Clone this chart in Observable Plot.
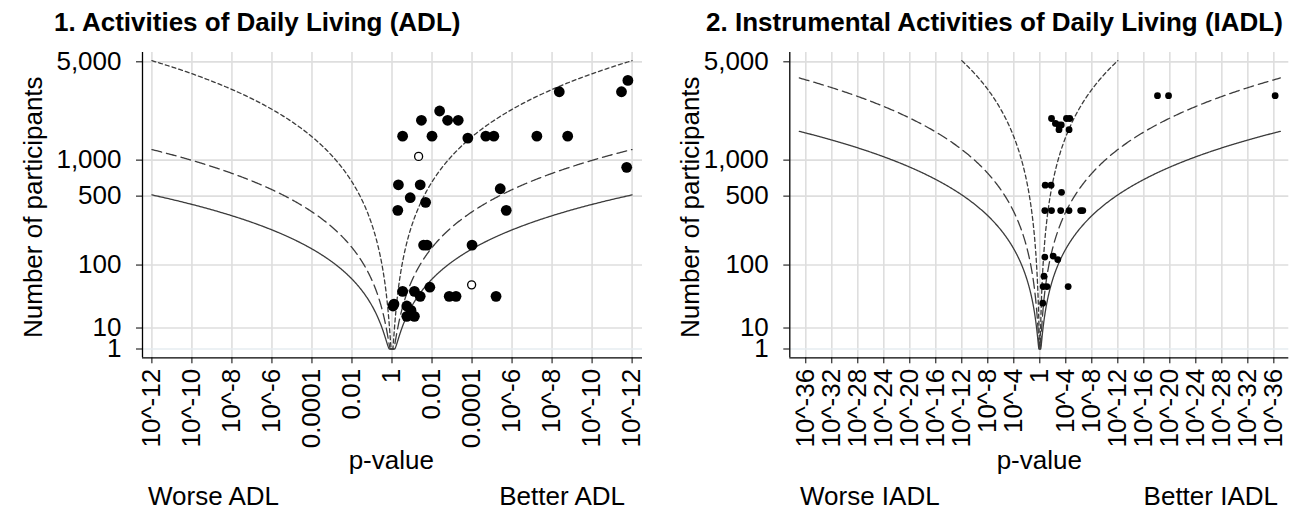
<!DOCTYPE html>
<html>
<head>
<meta charset="utf-8">
<script src="https://cdn.jsdelivr.net/npm/d3@7"></script>
<script src="https://cdn.jsdelivr.net/npm/@observablehq/plot@0.6"></script>
<style>
  html, body { margin: 0; padding: 0; background: #fff; }
  #wrap { position: relative; width: 1309px; height: 511px; overflow: hidden; font-family: "Liberation Sans", Arial, sans-serif; }
  .panel { position: absolute; top: 0; }
  .lbl { position: absolute; white-space: nowrap; color: #000; line-height: 1; font-size: 26px; }
  .title { font-weight: bold; font-size: 26px; }
  .center { transform: translateX(-50%); }
  .right { transform: translateX(-100%); }
  .ylab { transform-origin: 0 0; transform: rotate(-90deg); }
</style>
</head>
<body>
<div id="wrap"></div>
<script>
// ---------- data ----------
// x = signed -log10(p): negative = worse, positive = better
const adlX      = [1.47, 2.38, 2.78, 3.31, 8.36, 11.47, 11.79, 0.53, 2.0, 3.79, 4.69, 5.09, 7.24, 8.78, 11.73, 0.32, 1.41, 5.41, 0.91, 1.68, 0.29, 5.71, 1.58, 1.75, 4.0, 1.89, 0.53, 1.12, 1.41, 2.86, 3.2, 5.2, 0.1, 0.05, 0.74, 0.95, 0.74, 1.12];
const adlN      = [2000, 2330, 2000, 2000, 3170, 3170, 3780, 1530, 1530, 1480, 1530, 1530, 1530, 1530, 875, 627, 627, 580, 484, 440, 372, 372, 168, 168, 168, 52, 45.5, 45.5, 38.4, 38.4, 38.4, 38.4, 29, 27, 27, 22.7, 17.7, 17.7];
const adlHollowX = [1.33, 3.98];
const adlHollowN = [1070, 56];

const iadlX = [1.8, 4.1, 4.6, 2.4, 2.9, 3.3, 2.95, 4.5, 18.1, 19.8, 36.2, 0.83, 1.73, 3.34, 0.77, 1.80, 3.21, 4.49, 6.29, 6.61, 0.77, 2.05, 2.76, 0.64, 0.51, 1.09, 4.36, 0.45];
const iadlN = [2060, 2060, 2060, 1900, 1850, 1850, 1710, 1710, 2980, 2980, 2980, 622, 622, 540, 370, 370, 370, 370, 370, 370, 124, 127, 116, 73, 53, 53, 53, 30];

// contour effect sizes (standardised mean difference), n = 4 z^2 / d^2
const contourD    = [0.63, 0.41, 0.2];
const contourDash = [null, "10,5", "4,3"];

const yTickValues = [1, 10, 100, 500, 1000, 5000];
const yTickLabels = ["1", "10", "100", "500", "1,000", "5,000"];
const adlTickValues  = [-12, -10, -8, -6, -4, -2, 0, 2, 4, 6, 8, 10, 12];
const adlTickLabels  = ["10^-12", "10^-10", "10^-8", "10^-6", "0.0001", "0.01", "1", "0.01", "0.0001", "10^-6", "10^-8", "10^-10", "10^-12"];
const iadlTickValues = [-36, -32, -28, -24, -20, -16, -12, -8, -4, 0, 4, 8, 12, 16, 20, 24, 28, 32, 36];
const iadlTickLabels = ["10^-36", "10^-32", "10^-28", "10^-24", "10^-20", "10^-16", "10^-12", "10^-8", "10^-4", "1", "10^-4", "10^-8", "10^-12", "10^-16", "10^-20", "10^-24", "10^-28", "10^-32", "10^-36"];

// ---------- helpers ----------
function norminv(p) {
  const a = [-3.969683028665376e+01, 2.209460984245205e+02, -2.759285104469687e+02, 1.383577518672690e+02, -3.066479806614716e+01, 2.506628277459239e+00];
  const b = [-5.447609879822406e+01, 1.615858368580409e+02, -1.556989798598866e+02, 6.680131188771972e+01, -1.328068155288572e+01];
  const c = [-7.784894002430293e-03, -3.223964580411365e-01, -2.400758277161838e+00, -2.549732539343734e+00, 4.374664141464968e+00, 2.938163982698783e+00];
  const d = [7.784695709041462e-03, 3.224671290700398e-01, 2.445134137142996e+00, 3.754408661907416e+00];
  const plow = 0.02425, phigh = 1 - plow;
  if (p < plow) { const q = Math.sqrt(-2 * Math.log(p)); return (((((c[0]*q+c[1])*q+c[2])*q+c[3])*q+c[4])*q+c[5]) / ((((d[0]*q+d[1])*q+d[2])*q+d[3])*q+1); }
  if (p <= phigh) { const q = p - 0.5, r = q*q; return (((((a[0]*r+a[1])*r+a[2])*r+a[3])*r+a[4])*r+a[5])*q / (((((b[0]*r+b[1])*r+b[2])*r+b[3])*r+b[4])*r+1); }
  const q = Math.sqrt(-2 * Math.log(1 - p)); return -(((((c[0]*q+c[1])*q+c[2])*q+c[3])*q+c[4])*q+c[5]) / ((((d[0]*q+d[1])*q+d[2])*q+d[3])*q+1);
}
const zOf = x => -norminv(Math.pow(10, -Math.abs(x)) / 2);
const ty = n => Math.pow(Math.log(n), 2);   // axis transform of participant counts
const yLabelMap = new Map(yTickValues.map((v, i) => [ty(v), yTickLabels[i]]));

function contour(d, xmax) {
  const pts = [];
  const N = 500;
  for (let i = -N; i <= N; i++) {
    const u = i / N;
    const x = xmax * Math.sign(u) * Math.pow(Math.abs(u), 3);
    const n = Math.max(1, 4 * zOf(x) ** 2 / (d * d));
    pts.push({x, t: ty(n)});
  }
  return pts;
}

function panel({xDomain, tickValues, tickLabels, width, marginLeft, marginRight, pts, hollow, r, xmaxes}) {
  const xLabelMap = new Map(tickValues.map((v, i) => [v, tickLabels[i]]));
  const yDomain = [-2.22, 74.9];
  const gridT = yTickValues.map(ty);
  const marks = [
    Plot.ruleX(tickValues, {stroke: "#dedede", strokeWidth: 1.6}),
    Plot.ruleY(gridT.filter(t => t > 0), {stroke: "#dedede", strokeWidth: 1.6}),
    Plot.ruleY([0], {stroke: "#e6ecf0", strokeWidth: 1.6}),
  ];
  contourD.forEach((d, i) => {
    marks.push(Plot.line(contour(d, xmaxes[i]), {x: "x", y: "t", stroke: "#3c3c3c", strokeWidth: 1.3, strokeDasharray: contourDash[i]}));
  });
  marks.push(Plot.dot(pts, {x: "x", y: d => ty(d.n), r, fill: "#000", stroke: "none"}));
  if (hollow) marks.push(Plot.dot(hollow, {x: "x", y: d => ty(d.n), r: 4, fill: "#fff", stroke: "#000", strokeWidth: 1.3}));
  marks.push(
    Plot.axisX(tickValues, {tickRotate: -90, tickSize: 6, tickPadding: 5, tickFormat: v => xLabelMap.get(v), label: null, fontSize: 26, stroke: "#000"}),
    Plot.axisY(gridT, {tickSize: 6, tickPadding: 15, tickFormat: v => yLabelMap.get(v), label: null, fontSize: 26, stroke: "#000"}),
    Plot.ruleX([xDomain[0]], {stroke: "#000", strokeWidth: 1.3}),
    Plot.ruleY([yDomain[0]], {stroke: "#000", strokeWidth: 1.3})
  );
  return Plot.plot({
    width, height: 511,
    marginLeft, marginRight, marginTop: 52, marginBottom: 511 - 357.3,
    x: {type: "linear", domain: xDomain},
    y: {type: "linear", domain: yDomain},
    style: {fontFamily: "'Liberation Sans', Arial, sans-serif", color: "#000", background: "transparent", overflow: "visible"},
    marks
  });
}

const wrap = document.getElementById("wrap");
function place(el, left) { el.classList.add("panel"); el.style.left = left + "px"; wrap.appendChild(el); }
function label(text, cls, left, top) {
  const d = document.createElement("div");
  d.className = "lbl " + cls; d.textContent = text; d.style.left = left + "px"; d.style.top = top + "px";
  wrap.appendChild(d); return d;
}

const adlPts = adlX.map((x, i) => ({x, n: adlN[i]}));
const adlHollow = adlHollowX.map((x, i) => ({x, n: adlHollowN[i]}));
const iadlPts = iadlX.map((x, i) => ({x, n: iadlN[i]}));

place(panel({
  xDomain: [-12.47, 12.52], tickValues: adlTickValues, tickLabels: adlTickLabels,
  width: 655, marginLeft: 142, marginRight: 13, pts: adlPts, hollow: adlHollow, r: 5.4, xmaxes: [12, 12, 12]
}), 0);
place(panel({
  xDomain: [-38.46, 38.3], tickValues: iadlTickValues, tickLabels: iadlTickLabels,
  width: 654, marginLeft: 134.3, marginRight: 20.7, pts: iadlPts, hollow: null, r: 3.4, xmaxes: [37, 37, 12]
}), 655);

// titles and axis labels
label("1. Activities of Daily Living (ADL)", "title", 54, 9);
label("2. Instrumental Activities of Daily Living (IADL)", "title", 706, 9);
label("p-value", "center", 391.3, 447);
label("p-value", "center", 1039.3, 447);
label("Worse ADL", "", 148, 483);
label("Better ADL", "right", 625, 483);
label("Worse IADL", "", 800, 483);
label("Better IADL", "right", 1278, 483);
label("Number of participants", "ylab", 20, 338);
label("Number of participants", "ylab", 677, 338);
</script>
</body>
</html>
